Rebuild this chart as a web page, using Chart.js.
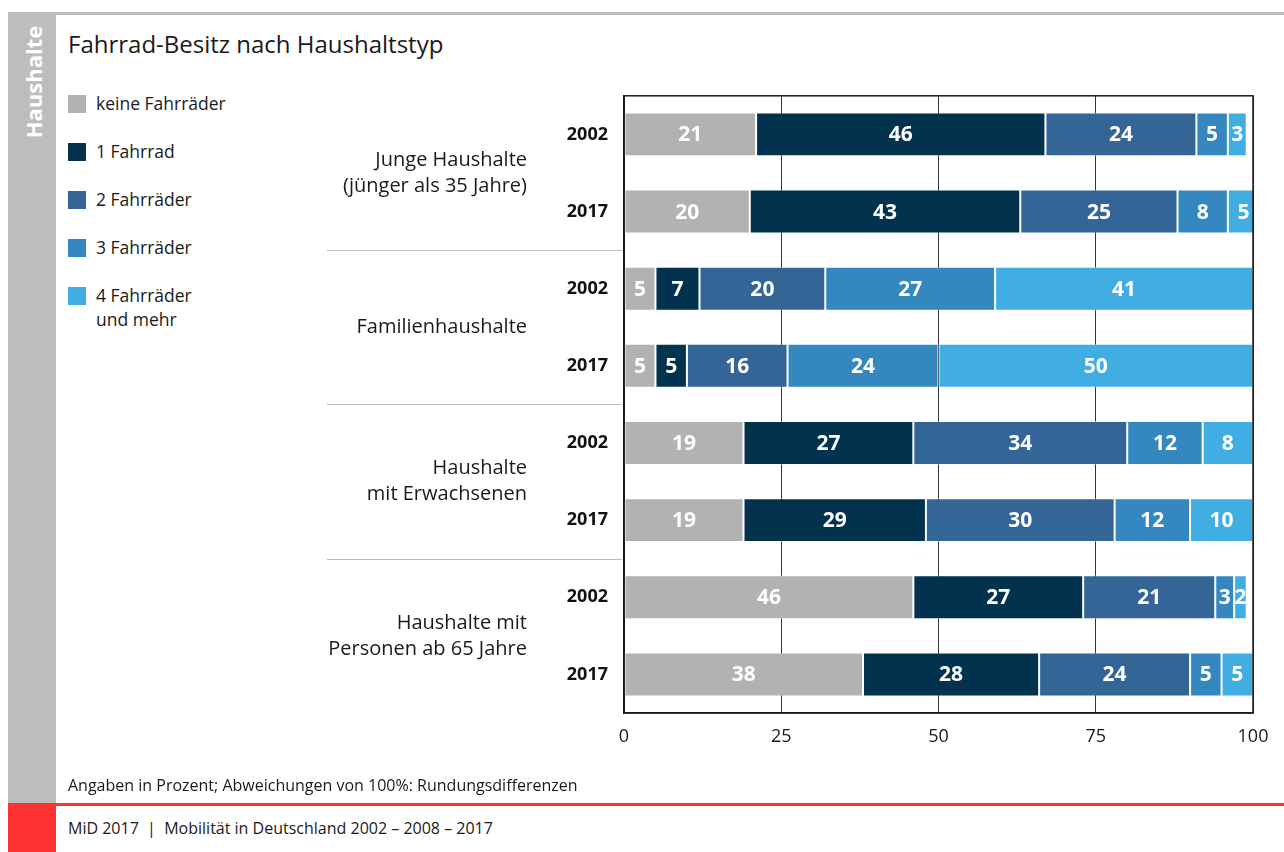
<!DOCTYPE html>
<html lang="de">
<head>
<meta charset="utf-8">
<title>Fahrrad-Besitz nach Haushaltstyp</title>
<script src="https://cdn.jsdelivr.net/npm/chart.js@4/dist/chart.umd.min.js"></script>
<style>
  html, body { margin: 0; padding: 0; background: #fff; }
  body { width: 1284px; height: 852px; position: relative; overflow: hidden; font-family: "Open Sans", sans-serif; color: #1a1a1a; }
  .topline { position: absolute; left: 8px; top: 12px; width: 1276px; height: 3px; background: #bdbdbd; }
  .sidebar { position: absolute; left: 8px; top: 12px; width: 48px; height: 792px; background: #bdbdbd; }
  .sidebar span { position: absolute; left: 25px; top: 70px; transform: translate(-50%, -50%) rotate(-90deg); color: #fff; font-weight: 700; font-size: 22px; white-space: nowrap; }
  .redblock { position: absolute; left: 8px; top: 803px; width: 48px; height: 49px; background: #ff3333; }
  .redline { position: absolute; left: 56px; top: 803px; width: 1228px; height: 3px; background: #ff3333; }
  h1 { position: absolute; left: 68px; top: 27px; margin: 0; font-size: 24px; font-weight: 400; }
  #legend { position: absolute; left: 68px; top: 91px; margin: 0; padding: 0; list-style: none; }
  #legend li { position: relative; height: 48px; padding-left: 28px; font-size: 17.5px; line-height: 24px; }
  #legend li i { position: absolute; left: 0; top: 4px; width: 18px; height: 18px; }
  .note { position: absolute; left: 68px; top: 774px; font-size: 16px; }
  .source { position: absolute; left: 68px; top: 817px; font-size: 16px; }
  #chart { position: absolute; left: 300px; top: 69px; }
</style>
</head>
<body>
<div class="topline"></div>
<div class="sidebar"><span>Haushalte</span></div>
<div class="redblock"></div>
<div class="redline"></div>
<h1>Fahrrad-Besitz nach Haushaltstyp</h1>
<ul id="legend"></ul>
<canvas id="chart" width="984" height="711"></canvas>
<div class="note">Angaben in Prozent; Abweichungen von 100%: Rundungsdifferenzen</div>
<div class="source">MiD 2017&nbsp; |&nbsp; Mobilität in Deutschland 2002 – 2008 – 2017</div>

<script>
// Jahre je Balken, Haushaltstypen je Balkenpaar
const years = ['2002', '2017', '2002', '2017', '2002', '2017', '2002', '2017'];
const groups = [
    'Junge Haushalte\n(jünger als 35 Jahre)',
    'Familienhaushalte',
    'Haushalte\nmit Erwachsenen',
    'Haushalte mit\nPersonen ab 65 Jahre'
];

// Anteile in Prozent
const keine = [21, 20, 5, 5, 19, 19, 46, 38];
const eins = [46, 43, 7, 5, 27, 29, 27, 28];
const zwei = [24, 25, 20, 16, 34, 30, 21, 24];
const drei = [5, 8, 27, 24, 12, 12, 3, 5];
const vierPlus = [3, 5, 41, 50, 8, 10, 2, 5];

const xTicks = [0, 25, 50, 75, 100];

const FONT = '"Open Sans", sans-serif';

function makeSet(label, data, color) {
    return {
        label: label,
        data: data,
        backgroundColor: color,
        borderColor: 'rgba(255,255,255,0.45)',
        borderWidth: 1,
        borderSkipped: false,
        barPercentage: 0.57,
        categoryPercentage: 1
    };
}

// Werte als weiße Zahlen mittig in die Segmente
const valueLabels = {
    id: 'valueLabels',
    afterDatasetsDraw(chart) {
        const ctx = chart.ctx;
        ctx.save();
        ctx.font = 'bold 21px ' + FONT;
        ctx.fillStyle = '#fff';
        ctx.textAlign = 'center';
        ctx.textBaseline = 'middle';
        chart.data.datasets.forEach((ds, i) => {
            chart.getDatasetMeta(i).data.forEach((bar, j) => {
                const cx = (bar.base + bar.x) / 2;
                ctx.fillText(String(ds.data[j]), cx, bar.y + 1);
            });
        });
        ctx.restore();
    }
};

// Rahmen, Gruppennamen und Trennlinien links der Achse
const frameAndGroups = {
    id: 'frameAndGroups',
    afterDraw(chart) {
        const ctx = chart.ctx;
        const a = chart.chartArea;
        const y = chart.scales.y;
        ctx.save();
        ctx.strokeStyle = '#1a1a1a';
        ctx.lineWidth = 1.5;
        ctx.strokeRect(a.left, a.top, a.right - a.left, a.bottom - a.top);

        ctx.font = '20px ' + FONT;
        ctx.fillStyle = '#1a1a1a';
        ctx.textAlign = 'right';
        ctx.textBaseline = 'middle';
        groups.forEach((g, i) => {
            const mid = (y.getPixelForValue(i * 2) + y.getPixelForValue(i * 2 + 1)) / 2;
            const lines = g.split('\n');
            const lh = 26;
            lines.forEach((line, k) => {
                ctx.fillText(line, 227, mid + (k - (lines.length - 1) / 2) * lh);
            });
            if (i > 0) {
                const sep = Math.round((y.getPixelForValue(i * 2 - 1) + y.getPixelForValue(i * 2)) / 2) + 0.5;
                ctx.strokeStyle = '#bdbdbd';
                ctx.lineWidth = 1;
                ctx.beginPath();
                ctx.moveTo(27, sep);
                ctx.lineTo(322, sep);
                ctx.stroke();
            }
        });
        ctx.restore();
    }
};

const chart = new Chart(document.getElementById('chart'), {
    type: 'bar',
    data: {
        labels: years,
        datasets: [
            makeSet('keine Fahrräder', keine, '#b2b2b2'),
            makeSet('1 Fahrrad', eins, '#03324f'),
            makeSet('2 Fahrräder', zwei, '#336697'),
            makeSet('3 Fahrräder', drei, '#3487bf'),
            makeSet('4 Fahrräder\nund mehr', vierPlus, '#40aee3')
        ]
    },
    options: {
        indexAxis: 'y',
        responsive: false,
        animation: false,
        devicePixelRatio: 1,
        layout: { padding: { top: 5, right: 31, left: 0, bottom: 0 } },
        plugins: {
            legend: { display: false },
            tooltip: { enabled: false }
        },
        scales: {
            x: {
                stacked: true,
                min: 0,
                max: 100,
                afterBuildTicks: scale => { scale.ticks = xTicks.map(v => ({ value: v })); },
                afterFit: scale => { scale.height = 67; },
                grid: { color: '#333', lineWidth: 1, drawTicks: false },
                border: { color: '#1a1a1a', width: 1.5 },
                ticks: { color: '#1a1a1a', padding: 13, font: { family: FONT, size: 18 } }
            },
            y: {
                stacked: true,
                afterFit: scale => { scale.width = 324; },
                grid: { display: false, drawTicks: false },
                border: { color: '#1a1a1a', width: 1.5 },
                ticks: { color: '#111', padding: 16, font: { family: FONT, size: 18, weight: 'bold' } }
            }
        }
    },
    plugins: [valueLabels, frameAndGroups]
});

// Legende aus den Datensätzen
const legend = document.getElementById('legend');
chart.data.datasets.forEach(ds => {
    const li = document.createElement('li');
    const box = document.createElement('i');
    box.style.background = ds.backgroundColor;
    li.appendChild(box);
    ds.label.split('\n').forEach((line, k) => {
        if (k > 0) li.appendChild(document.createElement('br'));
        li.appendChild(document.createTextNode(line));
    });
    legend.appendChild(li);
});
</script>
</body>
</html>
